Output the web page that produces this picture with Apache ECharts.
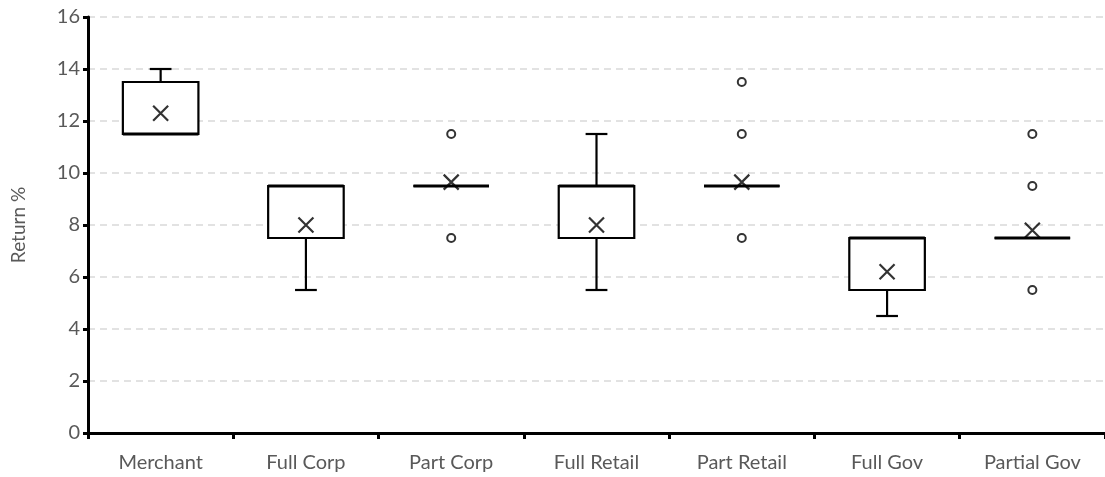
<!DOCTYPE html>
<html>
<head>
<meta charset="utf-8">
<script src="https://cdn.jsdelivr.net/npm/echarts@6/dist/echarts.min.js"></script>
<style>
  html, body { margin: 0; padding: 0; background: #fff; }
  #chart { width: 1105px; height: 477px; }
</style>
</head>
<body>
<div id="chart"></div>
<script>
const categories = ['Merchant', 'Full Corp', 'Part Corp', 'Full Retail', 'Part Retail', 'Full Gov', 'Partial Gov']
const mins    = [11.5, 5.5, 9.5, 5.5, 9.5, 4.5, 7.5]
const q1s     = [11.5, 7.5, 9.5, 7.5, 9.5, 5.5, 7.5]
const medians = [11.5, 9.5, 9.5, 9.5, 9.5, 7.5, 7.5]
const q3s     = [13.5, 9.5, 9.5, 9.5, 9.5, 7.5, 7.5]
const maxs    = [14, 9.5, 9.5, 11.5, 9.5, 7.5, 7.5]
const means   = [12.3, 8, 9.65, 8, 9.65, 6.2, 7.8]
// [category index, value]
const outliers = [[2, 11.5], [2, 7.5], [4, 13.5], [4, 11.5], [4, 7.5], [6, 11.5], [6, 9.5], [6, 5.5]]
const yTicks = { min: 0, max: 16, interval: 2 }

const labelFont = 'Lato'
const boxData = categories.map((c, i) => [i, mins[i], q1s[i], medians[i], q3s[i], maxs[i]])

function renderBox(params, api) {
  const i = api.value(0)
  const bw = api.size([1, 0])[0]
  const half = bw * 0.26
  const cap = bw * 0.075
  const pMin = api.coord([i, api.value(1)])
  const pQ1 = api.coord([i, api.value(2)])
  const pMed = api.coord([i, api.value(3)])
  const pQ3 = api.coord([i, api.value(4)])
  const pMax = api.coord([i, api.value(5)])
  const x = pQ1[0]
  const style = { stroke: '#000', lineWidth: 2.2, fill: null }
  const children = [
    { type: 'rect', shape: { x: x - half, y: pQ3[1], width: half * 2, height: pQ1[1] - pQ3[1] }, style: { stroke: '#000', lineWidth: 2.2, fill: '#fff' } },
    { type: 'line', shape: { x1: x - half, y1: pMed[1], x2: x + half, y2: pMed[1] }, style: { stroke: '#000', lineWidth: 2.8 } }
  ]
  if (pMax[1] < pQ3[1]) {
    children.push({ type: 'line', shape: { x1: x, y1: pQ3[1], x2: x, y2: pMax[1] }, style })
    children.push({ type: 'line', shape: { x1: x - cap, y1: pMax[1], x2: x + cap, y2: pMax[1] }, style })
  }
  if (pMin[1] > pQ1[1]) {
    children.push({ type: 'line', shape: { x1: x, y1: pQ1[1], x2: x, y2: pMin[1] }, style })
    children.push({ type: 'line', shape: { x1: x - cap, y1: pMin[1], x2: x + cap, y2: pMin[1] }, style })
  }
  return { type: 'group', children }
}

const options = {
  animation: false,
  grid: { left: 88, right: 0, top: 17, bottom: 44, outerBoundsMode: 'none', containLabel: false },
  xAxis: {
    type: 'category',
    data: categories,
    boundaryGap: true,
    axisLine: { lineStyle: { color: '#000', width: 3 } },
    axisTick: { show: true, length: 6, lineStyle: { color: '#000', width: 3 } },
    axisLabel: { color: '#595959', fontSize: 20, fontFamily: labelFont, margin: 20 },
    splitLine: { show: false }
  },
  yAxis: {
    type: 'value',
    min: yTicks.min,
    max: yTicks.max,
    interval: yTicks.interval,
    name: 'Return %',
    nameLocation: 'middle',
    nameGap: 60,
    nameTextStyle: { color: '#595959', fontSize: 19, fontFamily: labelFont },
    axisLine: { show: true, lineStyle: { color: '#000', width: 3 } },
    axisTick: { show: true, length: 5, lineStyle: { color: '#000', width: 3 } },
    axisLabel: { color: '#595959', fontSize: 20, fontFamily: labelFont, margin: 8 },
    splitLine: { show: true, lineStyle: { color: '#d9d9d9', width: 1.5, type: [7, 5] } }
  },
  series: [
    {
      type: 'custom',
      renderItem: renderBox,
      encode: { x: 0, y: [1, 2, 3, 4, 5] },
      data: boxData,
      z: 2
    },
    {
      type: 'scatter',
      symbol: 'path://M0,0L10,10M10,0L0,10',
      symbolSize: 15,
      itemStyle: { color: 'transparent', borderColor: '#000', borderWidth: 2.2 },
      data: means.map((m, i) => [i, m]),
      z: 4
    },
    {
      type: 'scatter',
      symbol: 'emptyCircle',
      symbolSize: 8,
      itemStyle: { color: '#000', borderWidth: 2 },
      data: outliers,
      z: 4
    }
  ]
}

const chart = echarts.init(document.getElementById('chart'))
chart.setOption(options)
window.addEventListener('resize', () => {
  chart.resize()
})
</script>
</body>
</html>
